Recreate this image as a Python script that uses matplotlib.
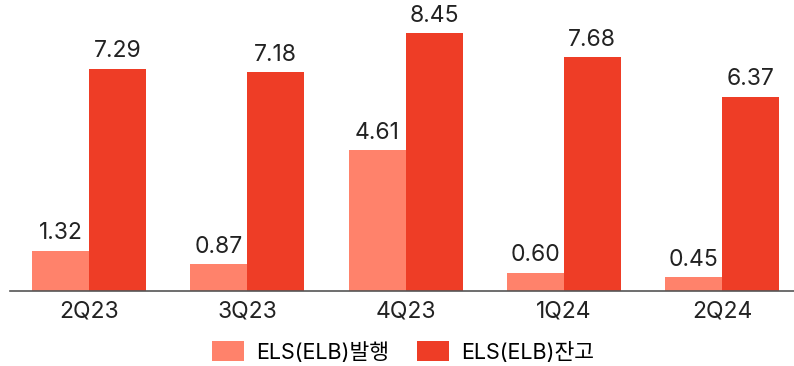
import matplotlib
matplotlib.use("Agg")
import matplotlib.pyplot as plt
import numpy as np

plt.rcParams["font.family"] = ["Inter", "Noto Sans CJK KR", "DejaVu Sans"]

quarters = ["2Q23", "3Q23", "4Q23", "1Q24", "2Q24"]
issued = [1.32, 0.87, 4.61, 0.60, 0.45]
balance = [7.29, 7.18, 8.45, 7.68, 6.37]
labels = ["ELS(ELB)발행", "ELS(ELB)잔고"]

C_ISSUE = "#FF826B"
C_BAL = "#EE3D26"

W, H = 794, 366
fig = plt.figure(figsize=(W / 100, H / 100), dpi=100)
ax = fig.add_axes([10 / W, (H - 291) / H, 784 / W, 290 / H])

x = np.arange(len(quarters))
w = 0.36
b1 = ax.bar(x - w / 2, issued, w, color=C_ISSUE, label=labels[0])
b2 = ax.bar(x + w / 2, balance, w, color=C_BAL, label=labels[1])

# value labels above each bar
for bars, vals in ((b1, issued), (b2, balance)):
    for r, v in zip(bars, vals):
        ax.annotate(f"{v:.2f}", (r.get_x() + r.get_width() / 2, v),
                    xytext=(0, 4.5), textcoords="offset points",
                    ha="center", va="bottom", fontsize=16.5, color="#222222")

ax.set_xlim(-0.5, 4.455)
ax.set_ylim(0, 290 / 30.5)
ax.set_xticks(x)
ax.set_xticklabels(quarters, fontsize=16.5, color="#222222")
ax.tick_params(axis="x", length=0, pad=7)
ax.set_yticks([])
for s in ("top", "right", "left"):
    ax.spines[s].set_visible(False)
ax.spines["bottom"].set_color("#555555")
ax.spines["bottom"].set_linewidth(1.2)

fig.legend(handles=[b1, b2], labels=labels, loc="center",
           bbox_to_anchor=(403 / W, (H - 352) / H), ncol=2, frameon=False,
           fontsize=15.5, handlelength=1.5, handleheight=1.05,
           columnspacing=1.3, handletextpad=0.55, borderaxespad=0)

fig.savefig("out.png", dpi=100)
